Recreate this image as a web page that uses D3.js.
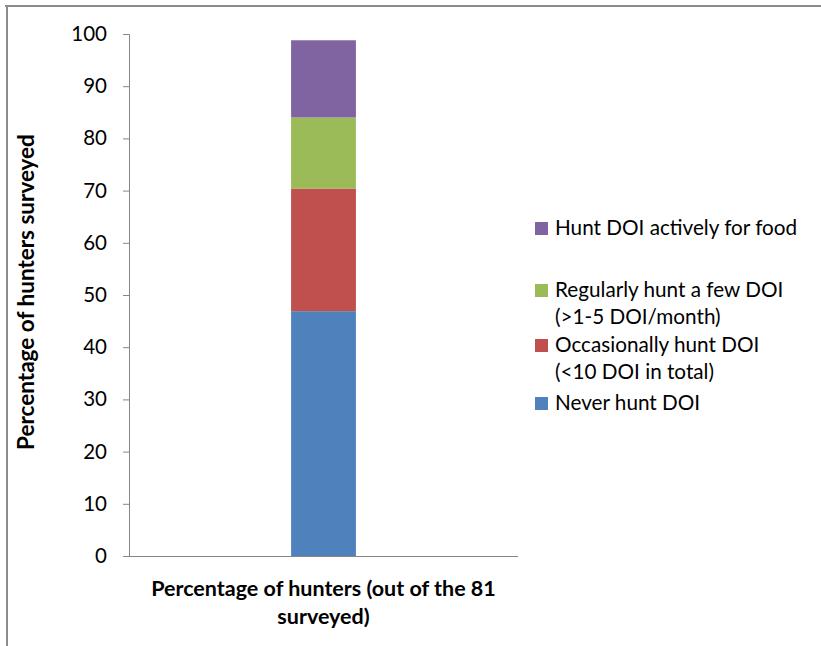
<!DOCTYPE html>
<html>
<head>
<meta charset="utf-8">
<script src="https://cdn.jsdelivr.net/npm/d3@7"></script>
<style>
  html, body { margin: 0; padding: 0; background: #fff; }
  svg { display: block; }
  text { font-family: Lato, "Open Sans", sans-serif; fill: #000; }
</style>
</head>
<body>
<div id="chart"></div>
<script>
// Survey of 81 hunters: how often they hunt DOI (percent of respondents)
const categories = ["Percentage of hunters (out of the 81 surveyed)"];
const seriesNames = [
  "Never hunt DOI",
  "Occasionally hunt DOI (<10 DOI in total)",
  "Regularly hunt a few DOI (>1-5 DOI/month)",
  "Hunt DOI actively for food"
];
const seriesValues = [46.9, 23.5, 13.6, 14.8];
const seriesColors = ["#4F81BD", "#C0504D", "#9BBB59", "#8064A2"];
const legendLines = [
  ["Never hunt DOI"],
  ["Occasionally hunt DOI", "(<10 DOI in total)"],
  ["Regularly hunt a few DOI", "(>1-5 DOI/month)"],
  ["Hunt DOI actively for food"]
];
const yTicks = [0, 10, 20, 30, 40, 50, 60, 70, 80, 90, 100];
const xTitleLines = ["Percentage of hunters (out of the 81", "surveyed)"];
const yTitle = "Percentage of hunters surveyed";

const W = 821, H = 646;
const plot = { left: 129, right: 518, top: 34, bottom: 556 };

const svg = d3.select("#chart").append("svg")
  .attr("width", W).attr("height", H);

// frame edges along the top and left
svg.append("line").attr("x1", 5).attr("x2", W).attr("y1", 6).attr("y2", 6)
  .attr("stroke", "#8c8c8c").attr("stroke-width", 2);
svg.append("line").attr("x1", 7).attr("x2", 7).attr("y1", 5).attr("y2", H)
  .attr("stroke", "#8c8c8c").attr("stroke-width", 2);

const x = d3.scaleBand().domain(categories)
  .range([plot.left, plot.right]).paddingInner(0).paddingOuter(2.5);
const y = d3.scaleLinear().domain([0, 100]).range([plot.bottom, plot.top]);

// stacked bar
const row = { cat: categories[0] };
seriesNames.forEach((s, i) => row[s] = seriesValues[i]);
const stack = d3.stack().keys(seriesNames)([row]);

svg.append("g").selectAll("rect").data(stack).join("rect")
  .attr("x", d => x(d[0].data.cat))
  .attr("width", x.bandwidth())
  .attr("y", d => y(d[0][1]))
  .attr("height", d => y(d[0][0]) - y(d[0][1]))
  .attr("fill", (d, i) => seriesColors[i]);

// y axis
const yAxis = svg.append("g")
  .attr("transform", `translate(${plot.left},0)`)
  .call(d3.axisLeft(y).tickValues(yTicks).tickSize(6).tickPadding(16));
yAxis.select(".domain").attr("stroke", "#868686");
yAxis.selectAll(".tick line").attr("stroke", "#868686");
yAxis.selectAll(".tick text").style("font-size", "20.5px").attr("fill", "#000");

// x axis baseline
svg.append("line")
  .attr("x1", plot.left).attr("x2", plot.right)
  .attr("y1", y(0) + 0.5).attr("y2", y(0) + 0.5)
  .attr("stroke", "#868686");

// axis titles
svg.append("text")
  .attr("transform", `translate(34,292) rotate(-90)`)
  .attr("text-anchor", "middle")
  .style("font-size", "22.5px").style("font-weight", "bold")
  .text(yTitle);

const xt = svg.append("text").attr("text-anchor", "middle")
  .style("font-size", "21.5px").style("font-weight", "bold");
xTitleLines.forEach((t, i) => {
  xt.append("tspan").attr("x", (plot.left + plot.right) / 2)
    .attr("y", 596 + i * 28).text(t);
});

// legend (drawn top-down in reverse stacking order)
const legendRows = [
  { i: 3, y: 228 },
  { i: 2, y: 290 },
  { i: 1, y: 345 },
  { i: 0, y: 403 }
];
const lg = svg.append("g");
legendRows.forEach(r => {
  lg.append("rect").attr("x", 535).attr("y", r.y - 6)
    .attr("width", 13).attr("height", 13).attr("fill", seriesColors[r.i]);
  legendLines[r.i].forEach((t, k) => {
    lg.append("text").attr("x", 555).attr("y", r.y + k * 27)
      .attr("dy", "0.35em").style("font-size", "20.7px").text(t);
  });
});
</script>
</body>
</html>
